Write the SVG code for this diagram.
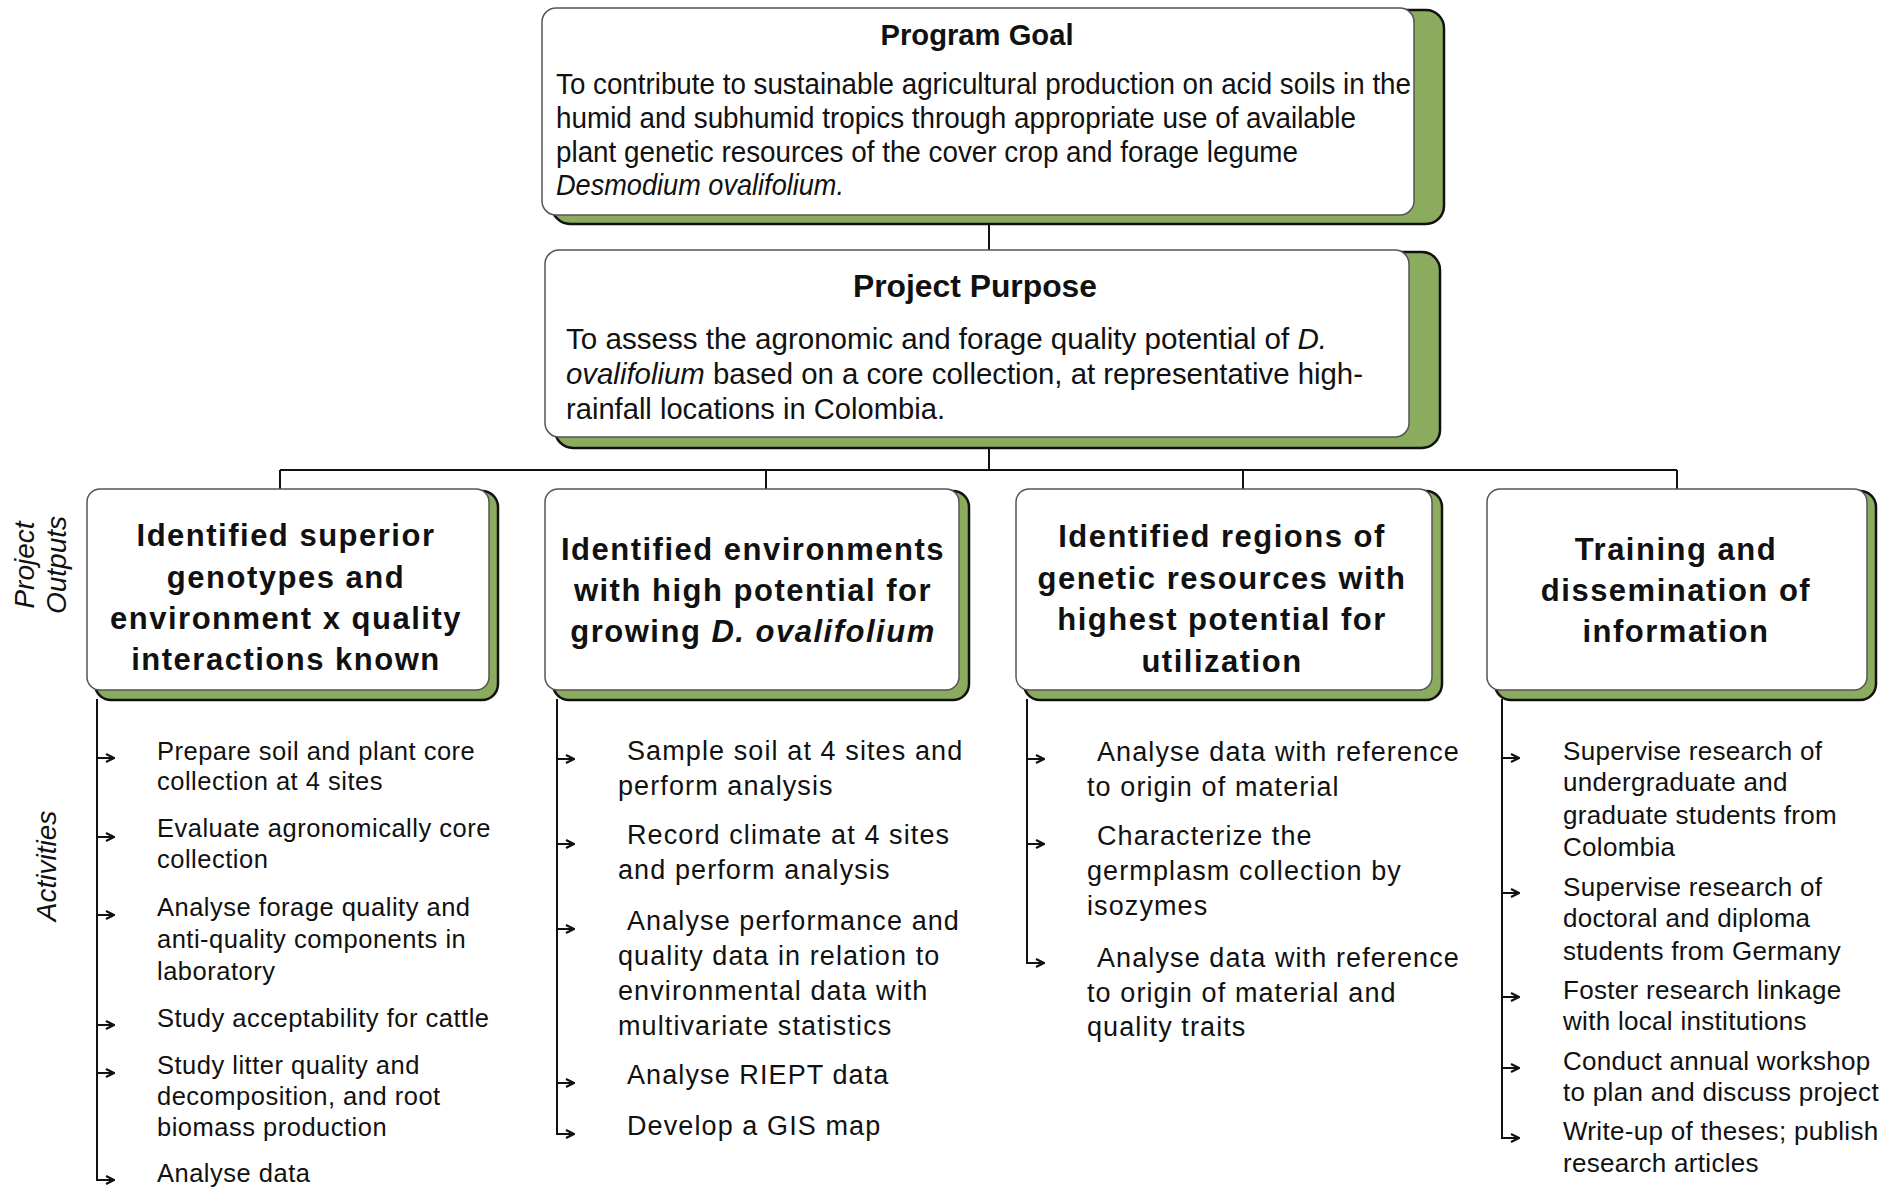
<svg xmlns="http://www.w3.org/2000/svg" width="1892" height="1188" viewBox="0 0 1892 1188">
  <defs>
    <marker id="ah" viewBox="0 0 10 10" refX="9" refY="5" markerWidth="10" markerHeight="10" markerUnits="userSpaceOnUse" orient="auto">
      <path d="M1,1 L9,5 L1,9" fill="none" stroke="#111" stroke-width="2.2"/>
    </marker>
  </defs>
  <style>
    .bg { fill: #ffffff; }
    .shadow { fill: #8bab5e; stroke: #111; stroke-width: 2.5; }
    .card { fill: #ffffff; stroke: #555; stroke-width: 1.5; }
    .conn { fill: none; stroke: #111; stroke-width: 2; }
    .arrow { fill: none; stroke: #111; stroke-width: 2; marker-end: url(#ah); }
    text { font-family: "Liberation Sans", Arial, sans-serif; fill: #111; }
    .head { font-weight: bold; }
    .body { font-size: 29px; }
    .out { font-size: 31px; font-weight: bold; letter-spacing: 1.5px; text-anchor: middle; }
    .a1 { font-size: 25.5px; letter-spacing: 0.5px; }
    .a2 { font-size: 27px; letter-spacing: 1.1px; }
    .a4 { font-size: 26px; letter-spacing: 0.3px; }
    .side { font-size: 28px; font-style: italic; text-anchor: middle; }
    .it { font-style: italic; }
  </style>

  <rect class="bg" x="0" y="0" width="1892" height="1188"/>

  <!-- connectors -->
  <g id="connectors">
    <path class="conn" d="M989,222 V250"/>
    <path class="conn" d="M989,447 V470"/>
    <path class="conn" d="M280,470 H1677"/>
    <path class="conn" d="M280,470 V489"/>
    <path class="conn" d="M766,470 V489"/>
    <path class="conn" d="M1243,470 V489"/>
    <path class="conn" d="M1677,470 V489"/>

    <!-- activity stems -->
    <path class="conn" d="M97,699 V1180"/>
    <path class="conn" d="M557,699 V1134"/>
    <path class="conn" d="M1027,699 V963"/>
    <path class="conn" d="M1502,699 V1138"/>

    <!-- activity arrows, column 1 -->
    <path class="arrow" d="M97,758 H114"/>
    <path class="arrow" d="M97,837 H114"/>
    <path class="arrow" d="M97,915 H114"/>
    <path class="arrow" d="M97,1025 H114"/>
    <path class="arrow" d="M97,1073 H114"/>
    <path class="arrow" d="M96,1180 H114"/>
    <!-- column 2 -->
    <path class="arrow" d="M557,759 H574"/>
    <path class="arrow" d="M557,844 H574"/>
    <path class="arrow" d="M557,929 H574"/>
    <path class="arrow" d="M557,1083 H574"/>
    <path class="arrow" d="M556,1134 H574"/>
    <!-- column 3 -->
    <path class="arrow" d="M1027,759 H1044"/>
    <path class="arrow" d="M1027,844 H1044"/>
    <path class="arrow" d="M1026,963 H1044"/>
    <!-- column 4 -->
    <path class="arrow" d="M1502,758 H1519"/>
    <path class="arrow" d="M1502,893 H1519"/>
    <path class="arrow" d="M1502,997 H1519"/>
    <path class="arrow" d="M1502,1068 H1519"/>
    <path class="arrow" d="M1501,1138 H1519"/>
  </g>

  <!-- Program Goal -->
  <g id="program-goal">
    <rect class="shadow" x="552" y="10" width="892" height="214" rx="18"/>
    <rect class="card" x="542" y="8" width="872" height="207" rx="14"/>
    <text class="head" x="977" y="45" font-size="30" text-anchor="middle" textLength="193" lengthAdjust="spacingAndGlyphs">Program Goal</text>
    <text class="body" x="556" y="94" textLength="855" lengthAdjust="spacingAndGlyphs">To contribute to sustainable agricultural production on acid soils in the</text>
    <text class="body" x="556" y="128" textLength="800" lengthAdjust="spacingAndGlyphs">humid and subhumid tropics through appropriate use of available</text>
    <text class="body" x="556" y="162" textLength="742" lengthAdjust="spacingAndGlyphs">plant genetic resources of the cover crop and forage legume</text>
    <text class="body it" x="556" y="195" textLength="288" lengthAdjust="spacingAndGlyphs">Desmodium ovalifolium.</text>
  </g>

  <!-- Project Purpose -->
  <g id="project-purpose">
    <rect class="shadow" x="555" y="252" width="885" height="196" rx="18"/>
    <rect class="card" x="545" y="250" width="864" height="187" rx="14"/>
    <text class="head" x="975" y="297" font-size="31" text-anchor="middle" textLength="244" lengthAdjust="spacingAndGlyphs">Project Purpose</text>
    <text class="body" x="566" y="349" font-size="30" textLength="761" lengthAdjust="spacingAndGlyphs">To assess the agronomic and forage quality potential of <tspan class="it">D.</tspan></text>
    <text class="body" x="566" y="384" font-size="30" textLength="797" lengthAdjust="spacingAndGlyphs"><tspan class="it">ovalifolium</tspan> based on a core collection, at representative high-</text>
    <text class="body" x="566" y="419" font-size="30" textLength="379" lengthAdjust="spacingAndGlyphs">rainfall locations in Colombia.</text>
  </g>

  <!-- side labels -->
  <g id="label-outputs">
    <text class="side" transform="translate(34,565) rotate(-90)">Project</text>
    <text class="side" transform="translate(66,565) rotate(-90)">Outputs</text>
  </g>
  <g id="label-activities">
    <text class="side" transform="translate(56,866) rotate(-90)">Activities</text>
  </g>

  <!-- Output 1 -->
  <g id="output-genotypes">
    <rect class="shadow" x="95" y="491" width="403" height="209" rx="16"/>
    <rect class="card" x="87" y="489" width="402" height="201" rx="13"/>
    <text class="out" x="286" y="546">Identified superior</text>
    <text class="out" x="286" y="588">genotypes and</text>
    <text class="out" x="286" y="629">environment x quality</text>
    <text class="out" x="286" y="670">interactions known</text>
  </g>
  <g id="activities-genotypes">
    <text class="a1" x="157" y="760">Prepare soil and plant core</text>
    <text class="a1" x="157" y="790">collection at 4 sites</text>
    <text class="a1" x="157" y="837">Evaluate agronomically core</text>
    <text class="a1" x="157" y="868">collection</text>
    <text class="a1" x="157" y="916">Analyse forage quality and</text>
    <text class="a1" x="157" y="948">anti-quality components in</text>
    <text class="a1" x="157" y="980">laboratory</text>
    <text class="a1" x="157" y="1027">Study acceptability for cattle</text>
    <text class="a1" x="157" y="1074">Study litter quality and</text>
    <text class="a1" x="157" y="1105">decomposition, and root</text>
    <text class="a1" x="157" y="1136">biomass production</text>
    <text class="a1" x="157" y="1182">Analyse data</text>
  </g>

  <!-- Output 2 -->
  <g id="output-environments">
    <rect class="shadow" x="553" y="491" width="416" height="209" rx="16"/>
    <rect class="card" x="545" y="489" width="414" height="201" rx="13"/>
    <text class="out" x="753" y="560">Identified environments</text>
    <text class="out" x="753" y="601">with high potential for</text>
    <text class="out" x="753" y="642">growing <tspan class="it">D. ovalifolium</tspan></text>
  </g>
  <g id="activities-environments">
    <text class="a2" x="627" y="760">Sample soil at 4 sites and</text>
    <text class="a2" x="618" y="795">perform analysis</text>
    <text class="a2" x="627" y="844">Record climate at 4 sites</text>
    <text class="a2" x="618" y="879">and perform analysis</text>
    <text class="a2" x="627" y="930">Analyse performance and</text>
    <text class="a2" x="618" y="965">quality data in relation to</text>
    <text class="a2" x="618" y="1000">environmental data with</text>
    <text class="a2" x="618" y="1035">multivariate statistics</text>
    <text class="a2" x="627" y="1084">Analyse RIEPT data</text>
    <text class="a2" x="627" y="1135">Develop a GIS map</text>
  </g>

  <!-- Output 3 -->
  <g id="output-regions">
    <rect class="shadow" x="1024" y="491" width="418" height="209" rx="16"/>
    <rect class="card" x="1016" y="489" width="416" height="201" rx="13"/>
    <text class="out" x="1222" y="547">Identified regions of</text>
    <text class="out" x="1222" y="589">genetic resources with</text>
    <text class="out" x="1222" y="630">highest potential for</text>
    <text class="out" x="1222" y="672">utilization</text>
  </g>
  <g id="activities-regions">
    <text class="a2" x="1097" y="761">Analyse data with reference</text>
    <text class="a2" x="1087" y="796">to origin of material</text>
    <text class="a2" x="1097" y="845">Characterize the</text>
    <text class="a2" x="1087" y="880">germplasm collection by</text>
    <text class="a2" x="1087" y="915">isozymes</text>
    <text class="a2" x="1097" y="967">Analyse data with reference</text>
    <text class="a2" x="1087" y="1002">to origin of material and</text>
    <text class="a2" x="1087" y="1036">quality traits</text>
  </g>

  <!-- Output 4 -->
  <g id="output-training">
    <rect class="shadow" x="1495" y="491" width="381" height="209" rx="16"/>
    <rect class="card" x="1487" y="489" width="380" height="201" rx="13"/>
    <text class="out" x="1676" y="560">Training and</text>
    <text class="out" x="1676" y="601">dissemination of</text>
    <text class="out" x="1676" y="642">information</text>
  </g>
  <g id="activities-training">
    <text class="a4" x="1563" y="760">Supervise research of</text>
    <text class="a4" x="1563" y="791">undergraduate and</text>
    <text class="a4" x="1563" y="824">graduate students from</text>
    <text class="a4" x="1563" y="856">Colombia</text>
    <text class="a4" x="1563" y="896">Supervise research of</text>
    <text class="a4" x="1563" y="927">doctoral and diploma</text>
    <text class="a4" x="1563" y="960">students from Germany</text>
    <text class="a4" x="1563" y="999">Foster research linkage</text>
    <text class="a4" x="1563" y="1030">with local institutions</text>
    <text class="a4" x="1563" y="1070">Conduct annual workshop</text>
    <text class="a4" x="1563" y="1101">to plan and discuss project</text>
    <text class="a4" x="1563" y="1140">Write-up of theses; publish</text>
    <text class="a4" x="1563" y="1172">research articles</text>
  </g>
</svg>
